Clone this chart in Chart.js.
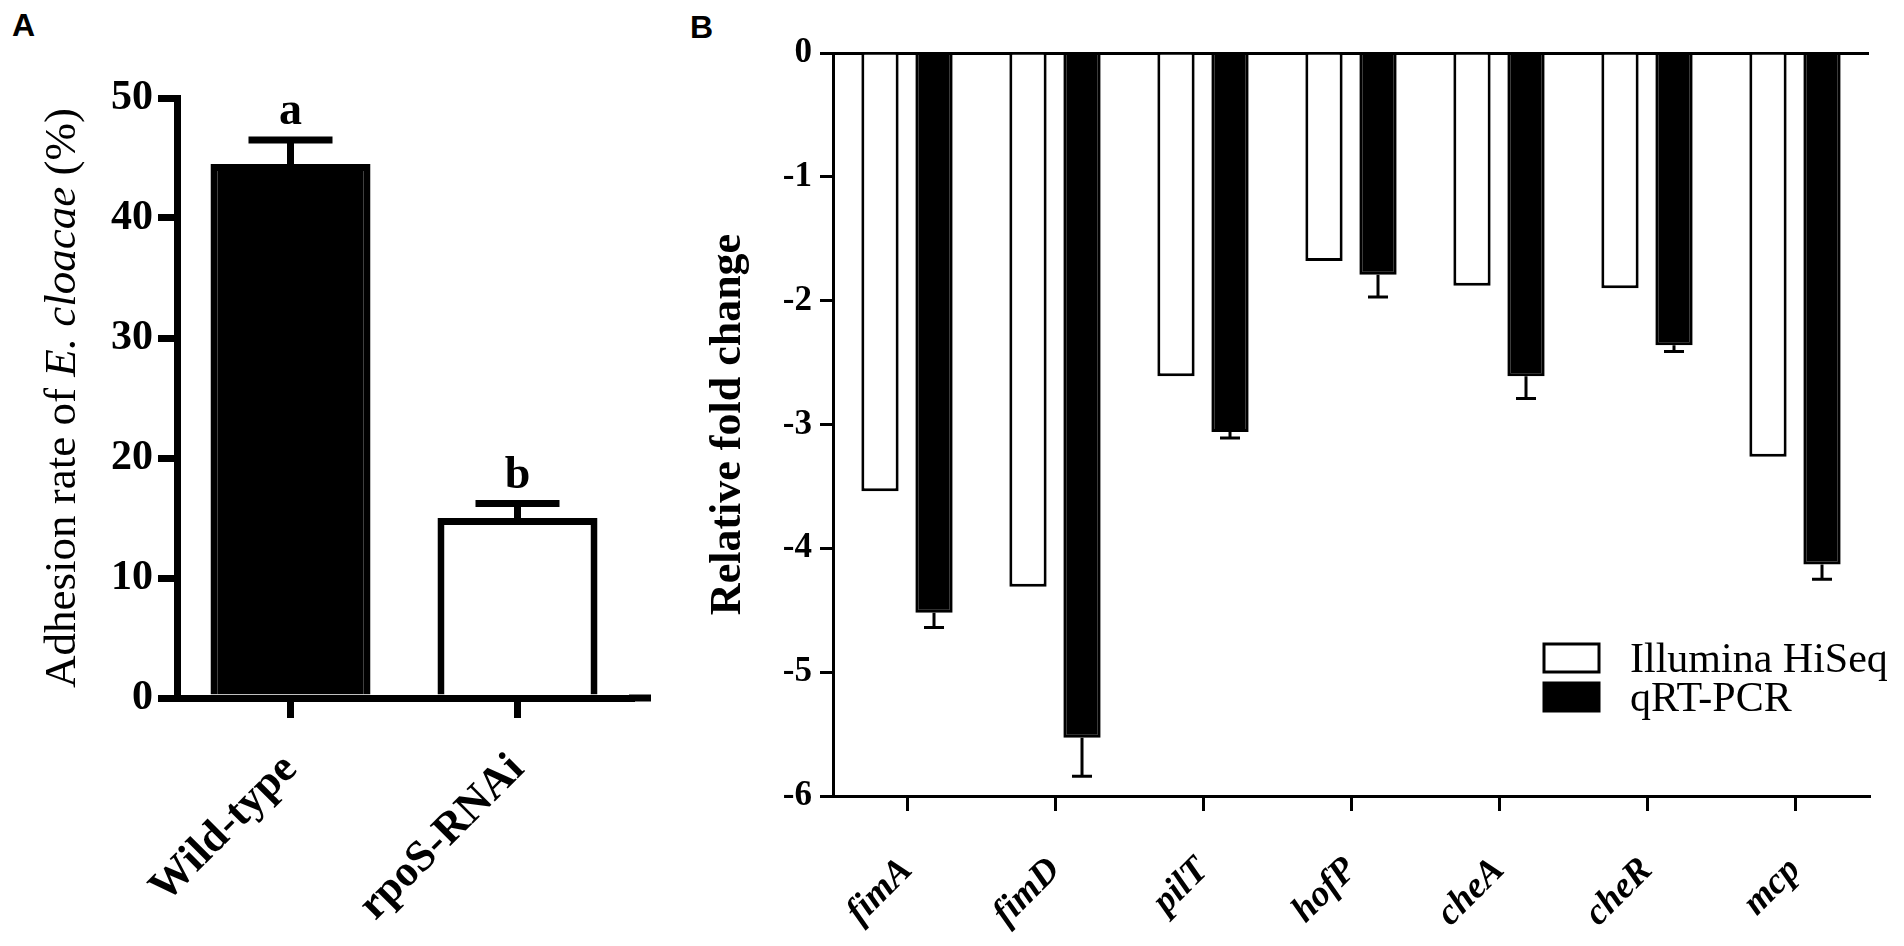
<!DOCTYPE html>
<html>
<head>
<meta charset="utf-8">
<script src="https://cdn.jsdelivr.net/npm/chart.js@4.4.1/dist/chart.umd.min.js"></script>
<style>
    html, body { margin: 0; padding: 0; background: #fff; width: 1904px; height: 946px; overflow: hidden; }
    canvas { position: absolute; top: 0; }
    #chartA { left: 0; }
    #chartB { left: 680px; }
    .panel { position: absolute; font: bold 32px 'Liberation Sans', Arial, sans-serif; line-height: 1; color: #000; }
</style>
</head>
<body>
<div class="panel" style="left:12px; top:9px;">A</div>
<div class="panel" style="left:690px; top:11px;">B</div>
<canvas id="chartA" width="680" height="946"></canvas>
<canvas id="chartB" width="1224" height="946"></canvas>
<script>
// Panel A: adhesion rate
const groupsA = ['Wild-type', 'rpoS-RNAi'];
const adhesion = [44.5, 15.0];
const adhesionErr = [2.0, 1.2];
const lettersA = ['a', 'b'];
const fillA = ['#000000', '#ffffff'];

// Panel B: relative fold change
const genes = ['fimA', 'fimD', 'pilT', 'hofP', 'cheA', 'cheR', 'mcp'];
const hiseq = [-3.54, -4.31, -2.61, -1.68, -1.88, -1.90, -3.26];
const qpcr = [-4.52, -5.53, -3.06, -1.79, -2.61, -2.36, -4.13];
const qpcrErr = [0.12, 0.31, 0.05, 0.18, 0.18, 0.05, 0.12];
const seriesB = ['Illumina HiSeq', 'qRT-PCR'];

Chart.defaults.font.family = "'Liberation Serif', 'Times New Roman', serif";
Chart.defaults.color = '#000';

/**
 * Error bars (+ optional letters) above/below each bar
 */
const errorBars = {
    id: 'errorBars',
    afterDatasetsDraw(chart, args, opts) {
        const ctx = chart.ctx;
        const yScale = chart.scales.y;
        chart.data.datasets.forEach((ds, i) => {
            if (!ds.errors) return;
            const meta = chart.getDatasetMeta(i);
            meta.data.forEach((bar, j) => {
                const v = ds.data[j];
                const end = yScale.getPixelForValue(v + Math.sign(v) * ds.errors[j]);
                ctx.save();
                ctx.strokeStyle = '#000';
                ctx.lineWidth = opts.width;
                ctx.beginPath();
                ctx.moveTo(bar.x, bar.y);
                ctx.lineTo(bar.x, end);
                ctx.moveTo(bar.x - opts.cap / 2, end);
                ctx.lineTo(bar.x + opts.cap / 2, end);
                ctx.stroke();
                if (ds.letters) {
                    ctx.fillStyle = '#000';
                    ctx.font = "bold 46px 'Liberation Serif', serif";
                    ctx.textAlign = 'center';
                    ctx.textBaseline = 'alphabetic';
                    ctx.fillText(ds.letters[j], bar.x, end - opts.letterGap);
                }
                ctx.restore();
            });
        });
    }
};

/**
 * Panel A extras: y title with italic species name, baseline tail
 */
const panelAExtras = {
    id: 'panelAExtras',
    afterDraw(chart) {
        const ctx = chart.ctx;
        const area = chart.chartArea;
        const y0 = chart.scales.y.getPixelForValue(0);

        // x axis runs a little past the last category
        ctx.save();
        ctx.strokeStyle = '#000';
        ctx.lineWidth = 7;
        ctx.beginPath();
        ctx.moveTo(area.right - 2, y0);
        ctx.lineTo(area.right + 20, y0);
        ctx.stroke();
        ctx.restore();

        // y title
        const parts = [
            ['Adhesion rate of ', "45px 'Liberation Serif', serif"],
            ['E. cloacae', "italic 45px 'Liberation Serif', serif"],
            [' (%)', "45px 'Liberation Serif', serif"]
        ];
        ctx.save();
        let total = 0;
        parts.forEach(p => { ctx.font = p[1]; total += ctx.measureText(p[0]).width; });
        ctx.translate(63, (area.top + area.bottom) / 2);
        ctx.rotate(-Math.PI / 2);
        ctx.fillStyle = '#000';
        ctx.textBaseline = 'middle';
        let x = -total / 2;
        parts.forEach(p => {
            ctx.font = p[1];
            ctx.fillText(p[0], x, 0);
            x += ctx.measureText(p[0]).width;
        });
        ctx.restore();
    }
};

/**
 * Panel B legend drawn inside the plot
 */
const legendB = {
    id: 'legendB',
    afterDraw(chart) {
        const ctx = chart.ctx;
        ctx.save();
        chart.data.datasets.forEach((ds, i) => {
            const top = 644 + i * 39;
            ctx.fillStyle = ds.backgroundColor;
            ctx.strokeStyle = '#000';
            ctx.lineWidth = 3;
            ctx.fillRect(864, top, 55, 28);
            ctx.strokeRect(864, top, 55, 28);
            ctx.fillStyle = '#000';
            ctx.font = "42px 'Liberation Serif', serif";
            ctx.textBaseline = 'alphabetic';
            ctx.fillText(ds.label, 950, top + 28);
        });
        ctx.restore();
    }
};

new Chart(document.getElementById('chartA'), {
    type: 'bar',
    data: {
        labels: groupsA,
        datasets: [{
            data: adhesion,
            errors: adhesionErr,
            letters: lettersA,
            backgroundColor: fillA,
            borderColor: '#000',
            borderWidth: 7,
            categoryPercentage: 1,
            barPercentage: 0.705
        }]
    },
    options: {
        responsive: false,
        animation: false,
        devicePixelRatio: 1,
        layout: { padding: { top: 98, right: 49, left: 0, bottom: 0 } },
        plugins: {
            legend: { display: false },
            tooltip: { enabled: false },
            errorBars: { width: 7, cap: 84, letterGap: 16 }
        },
        scales: {
            x: {
                afterFit: (s) => { s.height = 248; },
                grid: { display: true, drawOnChartArea: false, offset: false, tickLength: 20, lineWidth: 7, color: '#000' },
                border: { display: true, width: 7, color: '#000' },
                ticks: {
                    minRotation: 45, maxRotation: 45, autoSkip: false, padding: 26,
                    font: { size: 44, weight: 'bold' }
                }
            },
            y: {
                min: 0, max: 50,
                afterFit: (s) => { s.width = 177; },
                grid: { display: true, drawOnChartArea: false, tickLength: 19, lineWidth: 7, color: '#000' },
                border: { display: true, width: 7, color: '#000' },
                ticks: { stepSize: 10, padding: 5, font: { size: 42, weight: 'bold' } }
            }
        }
    },
    plugins: [errorBars, panelAExtras]
});

new Chart(document.getElementById('chartB'), {
    type: 'bar',
    data: {
        labels: genes,
        datasets: [
            {
                label: seriesB[0],
                data: hiseq,
                backgroundColor: '#ffffff',
                borderColor: '#000',
                borderWidth: 3,
                categoryPercentage: 0.73,
                barPercentage: 0.69
            },
            {
                label: seriesB[1],
                data: qpcr,
                errors: qpcrErr,
                backgroundColor: '#000000',
                borderColor: '#000',
                borderWidth: 3,
                categoryPercentage: 0.73,
                barPercentage: 0.69
            }
        ]
    },
    options: {
        responsive: false,
        animation: false,
        devicePixelRatio: 1,
        layout: { padding: { top: 53, right: 35, left: 0, bottom: 0 } },
        plugins: {
            legend: { display: false },
            tooltip: { enabled: false },
            errorBars: { width: 3, cap: 20, letterGap: 0 }
        },
        scales: {
            x: {
                afterFit: (s) => { s.height = 150; },
                grid: { display: true, drawOnChartArea: false, offset: false, tickLength: 15, lineWidth: 3, color: '#000' },
                border: { display: true, width: 3, color: '#000' },
                ticks: {
                    minRotation: 45, maxRotation: 45, autoSkip: false, padding: 38,
                    font: { size: 37, weight: 'bold', style: 'italic' }
                }
            },
            y: {
                min: -6, max: 0,
                afterFit: (s) => { s.width = 153; },
                title: {
                    display: true,
                    text: 'Relative fold change',
                    padding: { top: 22, bottom: 0 },
                    font: { size: 44, weight: 'bold' }
                },
                grid: {
                    display: true,
                    drawOnChartArea: true,
                    tickLength: 13,
                    lineWidth: 3,
                    color: (c) => (c.tick && c.tick.value === 0 ? '#000' : 'rgba(0,0,0,0)'),
                    tickColor: '#000'
                },
                border: { display: true, width: 3, color: '#000' },
                ticks: { stepSize: 1, padding: 8, font: { size: 35, weight: 'bold' } }
            }
        }
    },
    plugins: [errorBars, legendB]
});
</script>
</body>
</html>
